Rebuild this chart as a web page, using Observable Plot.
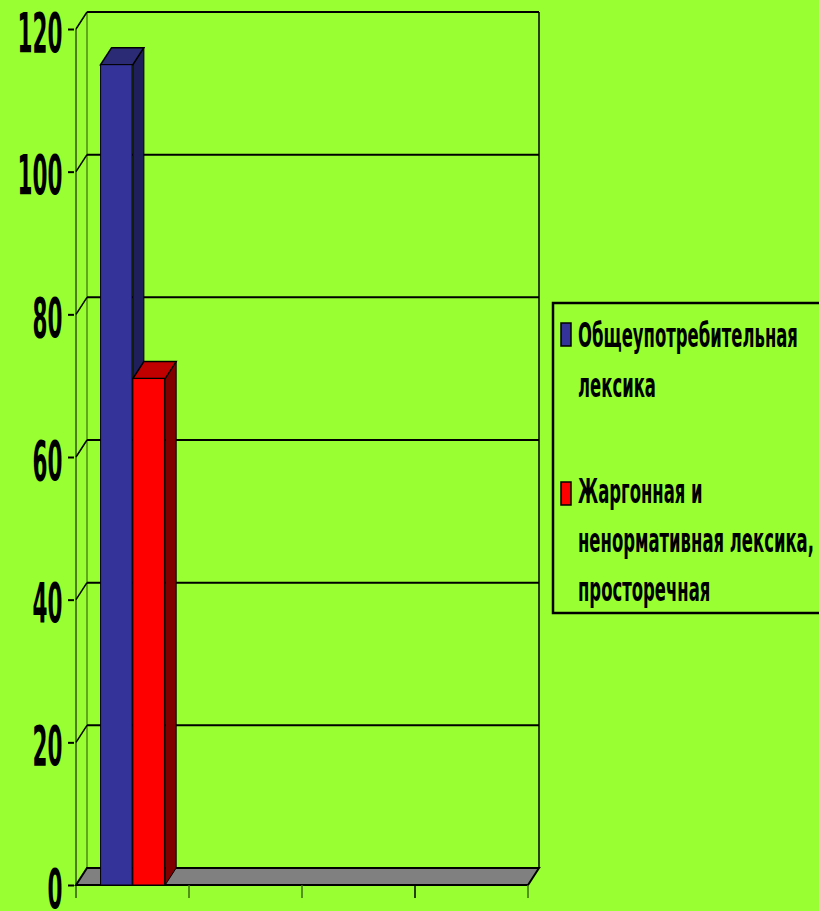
<!DOCTYPE html>
<html><head><meta charset="utf-8">
<script src="https://cdn.jsdelivr.net/npm/d3@7"></script>
<script src="https://cdn.jsdelivr.net/npm/@observablehq/plot@0.6"></script>
<style>
html,body{margin:0;padding:0;background:#99FF33;overflow:hidden;}
#wrap{position:relative;width:819px;height:911px;}
#chart svg{display:block;}
#legend{position:absolute;left:552px;top:302px;overflow:visible;}
</style></head><body>
<div id="wrap"><div id="chart"></div><svg id="legend" width="267" height="313"></svg></div>
<script>
const categories = ["1", "2", "3", "4"];
const seriesNames = ["Общеупотребительная лексика", "Жаргонная и ненормативная лексика, просторечная"];
const legendLines = [["Общеупотребительная", "лексика"], ["Жаргонная и", "ненормативная лексика,", "просторечная"]];
const seriesA = [115, null, null, null];
const seriesB = [71, null, null, null];
const yTicks = [0, 20, 40, 60, 80, 100, 120];
const frontColors = ["#333399", "#FF0000"];
const sideColors = ["#1F1F5C", "#800000"];
const topColors = ["#2A2A75", "#C00000"];

const rows = [];
categories.forEach((c, i) => {
  [seriesA, seriesB].forEach((s, j) => {
    if (s[i] != null) rows.push({category: c, series: seriesNames[j], si: j, value: s[i]});
  });
});

const W = 819, H = 911, mL = 74, mR = 290, mT = 29, mB = 26;
const bw = (W - mL - mR) / categories.length;
const barW = bw * 0.284;
const groupL = (bw - 2 * barW) / 2;
const DX = 11, DY = -17;
const font = "'Liberation Sans Narrow','Arial Narrow','DejaVu Sans Condensed','Liberation Sans',sans-serif";

function line(g, x1, y1, x2, y2, stroke, sw) {
  g.append("line").attr("x1", x1).attr("y1", y1).attr("x2", x2).attr("y2", y2)
    .attr("stroke", stroke).attr("stroke-width", sw);
}

function backWall(index, scales) {
  const {x, y} = scales;
  const b = x.bandwidth ? x.bandwidth() : bw;
  const x0 = x(categories[0]), x1 = x(categories[categories.length - 1]) + b;
  const y0 = y(0), yTop = y(yTicks[yTicks.length - 1]);
  const g = d3.create("svg:g");
  line(g, x0 + DX, y0 + DY, x0 + DX, yTop + DY, "#4C8C14", 1.5);
  line(g, x1 + DX, y0 + DY, x1 + DX, yTop + DY, "#000", 1.5);
  for (const t of yTicks) {
    if (t === 0) continue;
    line(g, x0 + DX, y(t) + DY, x1 + DX, y(t) + DY, "#000", 2);
    line(g, x0, y(t), x0 + DX, y(t) + DY, "#000", 1.5);
  }
  g.append("path")
    .attr("d", `M${x0},${y0}L${x1},${y0}L${x1 + DX},${y0 + DY}L${x0 + DX},${y0 + DY}Z`)
    .attr("fill", "#808080").attr("stroke", "#000").attr("stroke-width", 2);
  line(g, x0, yTop, x0, y0 + 13, "#000", 1);
  const bounds = categories.map(c => x(c)).concat([x1]);
  bounds.forEach((bx, i) => { if (i > 0) line(g, bx, y0, bx, y0 + 13, i === 3 ? "#000" : "#3A6E10", 1.5); });
  return g.node();
}

function barFaces(index, scales) {
  const {x, y} = scales;
  const y0 = y(0);
  const g = d3.create("svg:g");
  for (const d of rows) {
    const xl = x(d.category) + groupL + d.si * barW, xr = xl + barW, yt = y(d.value);
    g.append("path")
      .attr("d", `M${xr},${yt}L${xr + DX},${yt + DY}L${xr + DX},${y0 + DY}L${xr},${y0}Z`)
      .attr("fill", sideColors[d.si]).attr("stroke", "#000").attr("stroke-width", 1);
    g.append("path")
      .attr("d", `M${xl},${yt}L${xl + DX},${yt + DY}L${xr + DX},${yt + DY}L${xr},${yt}Z`)
      .attr("fill", topColors[d.si]).attr("stroke", "#000").attr("stroke-width", 1.5);
  }
  return g.node();
}

const chart = Plot.plot({
  width: W, height: H,
  marginLeft: mL, marginRight: mR, marginTop: mT, marginBottom: mB,
  style: {background: "transparent", color: "#000", fontFamily: font, overflow: "visible"},
  x: {domain: categories, padding: 0, axis: null},
  y: {domain: [0, 120], ticks: yTicks, tickSize: 6, tickPadding: 6, label: null},
  marks: [
    backWall,
    barFaces,
    Plot.barY(rows.filter(d => d.si === 0), {x: "category", y: "value", fill: frontColors[0], stroke: "#000", strokeWidth: 1,
      insetLeft: groupL, insetRight: bw - groupL - barW}),
    Plot.barY(rows.filter(d => d.si === 1), {x: "category", y: "value", fill: frontColors[1], stroke: "#000", strokeWidth: 1,
      insetLeft: groupL + barW, insetRight: bw - groupL - 2 * barW})
  ]
});
document.getElementById("chart").appendChild(chart);

// Style y tick labels: tall condensed bold digits, centred on the tick
const svg = d3.select(chart);
svg.selectAll('g[aria-label^="y-axis"] line, g[aria-label="y-axis tick"] path').attr("stroke-width", 2).attr("stroke", "#000");
const labels = svg.selectAll('g[aria-label^="y-axis"] text');
labels.attr("font-size", 40).attr("font-weight", "bold").attr("font-family", font).attr("fill", "#000");
let ref = null;
labels.each(function () { if (this.textContent === "120") ref = this; });
const sx = ref ? 45 / ref.getBBox().width : 1;
const sy = 40 / (40 * 0.73);
labels.each(function () {
  const el = d3.select(this);
  const xa = el.attr("x"), ya = el.attr("y");
  const tx = (xa && !/em$/.test(xa)) ? +xa : 0;
  const ty = (ya && !/em$/.test(ya)) ? +ya : 0;
  const tr = el.attr("transform") || "";
  el.attr("dy", null).attr("x", 0).attr("y", "0.365em")
    .attr("transform", `${tr} translate(${tx},${ty + 2}) scale(${sx},${sy})`);
});

// Legend
const lg = d3.select("#legend");
lg.append("rect").attr("x", 1).attr("y", 1).attr("width", 400).attr("height", 310)
  .attr("fill", "none").attr("stroke", "#000").attr("stroke-width", 2.5);
const baselines = [[45, 95], [201, 250, 299]];
const swatchY = [21, 180];
const texts = [];
legendLines.forEach((lines, i) => {
  lg.append("rect").attr("x", 9).attr("y", swatchY[i]).attr("width", 10).attr("height", 23)
    .attr("fill", frontColors[i]).attr("stroke", "#000").attr("stroke-width", 1.5);
  lines.forEach((t, k) => {
    texts.push(lg.append("text").attr("x", 0).attr("y", 0)
      .attr("data-x", 26).attr("data-y", baselines[i][k])
      .attr("font-family", font).attr("font-weight", "bold").attr("font-size", 34).attr("fill", "#000").text(t));
  });
});
const lsx = 236 / texts[3].node().getComputedTextLength();
texts.forEach(t => t.attr("transform", `translate(${t.attr("data-x")},${t.attr("data-y")}) scale(${lsx},1)`));
</script>
</body></html>
